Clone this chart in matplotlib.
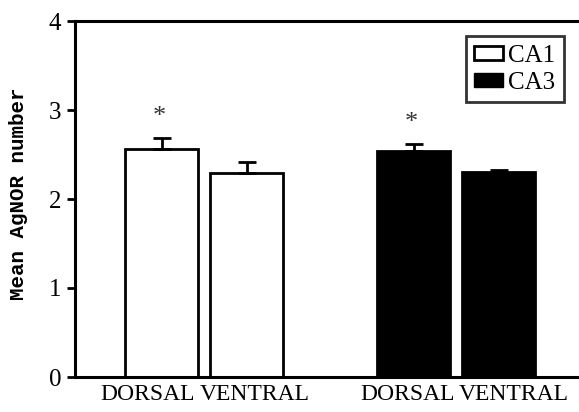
import matplotlib
matplotlib.use("Agg")
import matplotlib.pyplot as plt
from matplotlib.patches import Patch
import numpy as np

categories = ["DORSAL", "VENTRAL", "DORSAL", "VENTRAL"]
groups = ["CA1", "CA1", "CA3", "CA3"]
means = [2.56, 2.29, 2.54, 2.30]
errors = [0.13, 0.13, 0.08, 0.03]
significant = [True, False, True, False]
yticks = [0, 1, 2, 3, 4]

serif = "Liberation Serif"

fig = plt.figure(figsize=(5.79, 4.12), dpi=100)
ax = fig.add_axes([75 / 579, 35 / 412, 1 - 75 / 579, (377 - 21) / 412])

# bar positions (bar width = 1 unit)
pos = np.array([0.0, 1.16, 3.45, 4.61])
label_pos = np.array([-0.19, 1.27, 3.37, 4.82])
face = ["white" if g == "CA1" else "black" for g in groups]

ax.bar(pos, means, width=1.0, color=face, edgecolor="black", linewidth=2.0, zorder=2)
ax.errorbar(pos, means, yerr=[np.zeros(len(errors)), errors], fmt="none",
            ecolor="black", elinewidth=2.0, capsize=6.5, capthick=2.0, zorder=3)

for p, m, e, s in zip(pos, means, errors, significant):
    if s:
        ax.text(p - 0.04, m + e + 0.23, "*", ha="center", va="center",
                fontsize=19, family=serif, color="#333333")

ax.set_xlim(-1.19, 5.71)
ax.set_ylim(0, 4)
ax.set_yticks(yticks)
ax.set_yticklabels([str(t) for t in yticks], fontsize=18, family=serif)
ax.set_xticks(label_pos)
ax.set_xticklabels(categories, fontsize=17, family=serif)
ax.tick_params(axis="x", length=0, pad=5)
ax.tick_params(axis="y", length=6, width=2, direction="out", pad=4)

for sp in ["left", "top", "bottom"]:
    ax.spines[sp].set_linewidth(2.2)
ax.spines["right"].set_visible(False)

ax.set_ylabel("Mean AgNOR number", fontsize=15, family="Liberation Mono",
              fontweight="bold")
ax.yaxis.set_label_coords(-0.093, 0.515)

handles = [Patch(facecolor="white", edgecolor="black", linewidth=2.0, label="CA1"),
           Patch(facecolor="black", edgecolor="black", linewidth=1.0, label="CA3")]
leg = ax.legend(handles=handles, loc="upper right", bbox_to_anchor=(0.970, 0.958),
                prop={"family": serif, "size": 18}, frameon=True, fancybox=False,
                edgecolor="black", handlelength=1.15, handleheight=0.45,
                handletextpad=0.2, borderpad=0.35, labelspacing=0.2,
                borderaxespad=0)
leg.get_frame().set_linewidth(2.0)

fig.savefig("out.png", dpi=100)
